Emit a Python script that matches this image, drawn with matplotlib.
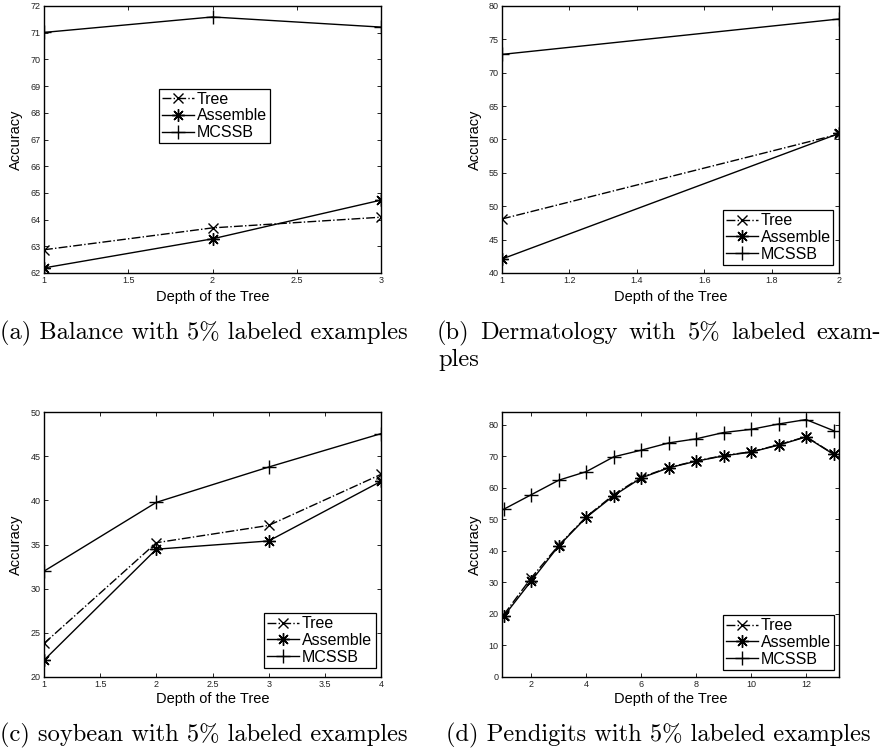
import matplotlib
matplotlib.use("Agg")
import matplotlib.pyplot as plt

# ---- data ----
depth_a = [1, 2, 3]
tree_a = [62.87, 63.69, 64.09]
assemble_a = [62.19, 63.28, 64.73]
mcssb_a = [71.01, 71.59, 71.21]

depth_b = [1, 2]
tree_b = [48.1, 60.8]
assemble_b = [42.1, 60.9]
mcssb_b = [72.75, 78.05]

depth_c = [1, 2, 3, 4]
tree_c = [23.8, 35.2, 37.16, 42.94]
assemble_c = [21.9, 34.47, 35.4, 42.15]
mcssb_c = [31.98, 39.77, 43.77, 47.55]

depth_d = [1, 2, 3, 4, 5, 6, 7, 8, 9, 10, 11, 12, 13]
tree_d = [19.8, 31.5, 41.8, 50.8, 57.8, 63.3, 66.4, 68.5, 70.2, 71.4, 73.6, 76.2, 70.7]
assemble_d = [19.3, 30.5, 41.6, 50.6, 57.5, 63.1, 66.3, 68.4, 70.1, 71.3, 73.5, 76.1, 70.6]
mcssb_d = [53.2, 57.8, 62.4, 65.1, 69.8, 71.9, 74.2, 75.5, 77.5, 78.5, 80.2, 81.6, 78.1]

series_names = ["Tree", "Assemble", "MCSSB"]
captions = ["(a) Balance with 5% labeled examples",
            "(b) Dermatology with 5% labeled exam-",
            "(c) soybean with 5% labeled examples",
            "(d) Pendigits with 5% labeled examples"]
caption_b2 = "ples"

W, H = 888, 754
fig = plt.figure(figsize=(W / 100, H / 100), dpi=100)
sans = ["Liberation Sans", "DejaVu Sans"]
serif = ["cmr10", "DejaVu Serif"]


def ax_px(l, t, r, b):
    return fig.add_axes([l / W, (H - b) / H, (r - l) / W, (b - t) / H])


asterisk = (8, 2, 0)


def panel(ax, x, tr, asm, mc, xlim, ylim, xticks, xtl, yticks, ytl, leg_box, ylab_x, xlab_y):
    ax.plot(x, tr, color="black", lw=1.0, ls="-.", marker="x", ms=7, mew=1.0, label=series_names[0])
    ax.plot(x, asm, color="black", lw=1.0, ls="-", marker=asterisk, ms=9, mew=1.0, label=series_names[1])
    ax.plot(x, mc, color="black", lw=1.0, ls="-", marker="+", ms=10, mew=1.0, label=series_names[2])
    ax.set_xlim(*xlim)
    ax.set_ylim(*ylim)
    ax.set_xticks(xticks)
    ax.set_xticklabels(xtl, fontsize=6.5, family=sans, color="#222222")
    ax.set_yticks(yticks)
    ax.set_yticklabels(ytl, fontsize=6.5, family=sans, color="#222222")
    ax.tick_params(direction="in", top=True, right=True, length=3, width=0.6, pad=2.5)
    for s in ax.spines.values():
        s.set_linewidth(1.0)
    ax.set_xlabel("Depth of the Tree", fontsize=10.5, family=sans)
    ax.set_ylabel("Accuracy", fontsize=10.5, family=sans)
    ax.yaxis.set_label_coords(ylab_x, 0.5)
    ax.xaxis.set_label_coords(0.5, xlab_y)
    leg = ax.legend(loc="center", bbox_to_anchor=leg_box, bbox_transform=ax.transAxes,
                    prop={"family": sans, "size": 11.5}, frameon=True, fancybox=False,
                    edgecolor="black", framealpha=1, handlelength=2.0, handletextpad=0.15,
                    borderpad=0.2, labelspacing=0.1, borderaxespad=0, mode="expand")
    leg.get_frame().set_linewidth(0.9)


def box_axes(l, t, r, b, al, at, ar, ab):
    # convert pixel legend box into axes fraction (x0, y0, w, h)
    w = ar - al
    h = ab - at
    return ((l - al) / w, (ab - b) / h, (r - l) / w, (b - t) / h)


# (a)
axA = ax_px(44, 6, 381, 273)
panel(axA, depth_a, tree_a, assemble_a, mcssb_a, (1, 3), (62, 72),
      [1, 1.5, 2, 2.5, 3], ["1", "1.5", "2", "2.5", "3"],
      list(range(62, 73)), [str(v) for v in range(62, 73)],
      box_axes(159, 84, 270, 148, 44, 6, 381, 273), -0.062, -0.062)

# (b)
axB = ax_px(502, 6, 839, 273)
panel(axB, depth_b, tree_b, assemble_b, mcssb_b, (1, 2), (40, 80),
      [1, 1.2, 1.4, 1.6, 1.8, 2], ["1", "1.2", "1.4", "1.6", "1.8", "2"],
      list(range(40, 81, 5)), [str(v) for v in range(40, 81, 5)],
      box_axes(723, 206, 833, 269, 502, 6, 839, 273), -0.059, -0.062)

# (c)
axC = ax_px(44, 412, 381, 677)
panel(axC, depth_c, tree_c, assemble_c, mcssb_c, (1, 4), (20, 50),
      [1, 1.5, 2, 2.5, 3, 3.5, 4], ["1", "1.5", "2", "2.5", "3", "3.5", "4"],
      list(range(20, 51, 5)), [str(v) for v in range(20, 51, 5)],
      box_axes(264, 609, 376, 672, 44, 412, 381, 677), -0.062, -0.055)

# (d)
axD = ax_px(502, 412, 839, 677)
panel(axD, depth_d, tree_d, assemble_d, mcssb_d, (0.93, 13.2), (0, 84),
      [2, 4, 6, 8, 10, 12], ["2", "4", "6", "8", "10", "12"],
      list(range(0, 81, 10)), [str(v) for v in range(0, 81, 10)],
      box_axes(723, 611, 834, 674, 502, 412, 839, 677), -0.059, -0.055)

# ---- captions (serif, sized to the reference widths) ----
renderer = fig.canvas.get_renderer()
probe = fig.text(0, 0, captions[0], family=serif, fontsize=10)
pw = probe.get_window_extent(renderer).width
probe.remove()
cap_fs = 10 * 408 / pw


def put(x, y, s):
    return fig.text(x / W, 1 - y / H, s, family=serif, fontsize=cap_fs, va="center", ha="left")


put(0, 333, captions[0])
put(0, 735, captions[2])
put(446, 735, captions[3])
put(438, 360, caption_b2)

# justified first line of (b): spread words between x=437 and x=881
words = captions[1].split(" ")
widths = []
for w_ in words:
    t = fig.text(0, 0, w_, family=serif, fontsize=cap_fs)
    widths.append(t.get_window_extent(renderer).width)
    t.remove()
gap = (881 - 437 - sum(widths)) / (len(words) - 1)
xpos = 437
for w_, wd in zip(words, widths):
    put(xpos, 333, w_)
    xpos += wd + gap

fig.savefig("out.png", dpi=100)
